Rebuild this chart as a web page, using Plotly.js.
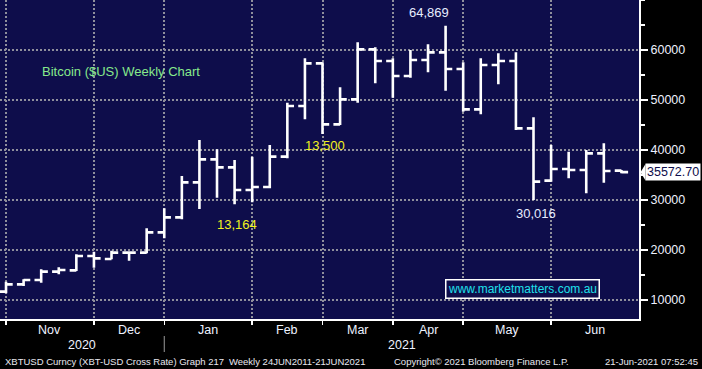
<!DOCTYPE html>
<html>
<head>
<meta charset="utf-8">
<script src="https://cdn.plot.ly/plotly-3.0.1.min.js"></script>
<style>
  html, body { margin: 0; padding: 0; background: #000000; }
  #chart { width: 702px; height: 369px; }
</style>
</head>
<body>
<div id="chart"></div>
<script>
// Weekly bars (week start dates)
const weeks = [
  '2020-10-19','2020-10-26','2020-11-02','2020-11-09','2020-11-16','2020-11-23',
  '2020-11-30','2020-12-07','2020-12-14','2020-12-21','2020-12-28','2021-01-04',
  '2021-01-11','2021-01-18','2021-01-25','2021-02-01','2021-02-08','2021-02-15',
  '2021-02-22','2021-03-01','2021-03-08','2021-03-15','2021-03-22','2021-03-29',
  '2021-04-05','2021-04-12','2021-04-19','2021-04-26','2021-05-03','2021-05-10',
  '2021-05-17','2021-05-24','2021-05-31','2021-06-07','2021-06-14','2021-06-21'
];
const openVals = [
  11670,13130,14000,15670,15930,18800,18200,19470,19470,23530,26530,33530,
  38130,36530,32000,32600,38670,48800,57330,45130,50130,60130,57800,54800,
  58000,59530,56200,48130,57000,57800,44330,33870,36200,36000,39330,35870
];
const highVals = [
  13670,14130,16130,16530,19130,19670,19870,19520,24330,28330,34800,42000,
  40130,38000,38670,41000,49470,58330,57530,52530,61530,60530,58330,60000,
  61130,64869,57530,58330,59330,59530,46530,41000,39670,40000,41330,36000
];
const lowVals = [
  11330,12800,13470,15130,15800,16470,18130,17870,19330,22330,26130,28200,
  30470,29130,29530,32330,38330,46130,43200,45000,49470,53330,50470,54470,
  55530,51870,47670,47130,53130,44000,30016,33670,34330,31330,33470,35330
];
const closeVals = [
  13130,14000,15670,16000,18800,18330,19470,19470,23530,26530,33530,38130,
  36530,32000,32600,38670,48800,57330,45130,50130,60130,57800,54800,58000,
  59530,56200,48130,57000,57800,44330,33670,36200,36000,39330,35800,35572.70
];

// Axis ticks / labels
const monthTicks = ['2020-10-19','2020-11-23','2020-12-21','2021-01-25','2021-02-22','2021-03-22','2021-04-19','2021-05-24'];
const monthNames = ['Nov','Dec','Jan','Feb','Mar','Apr','May','Jun'];
const yearNames = ['2020','2021'];
const yTickVals = [10000,20000,30000,40000,50000,60000];
const yTickText = ['10000','20000','30000','40000','50000','60000'];
const xRange = ['2020-10-16 14:30','2021-06-28'];
const yRange = [6200, 70000];

const title = 'Bitcoin ($US) Weekly Chart';
const yellowNotes = ['13,164','13,500'];
const website = 'www.marketmatters.com.au';
const footerLeft = 'XBTUSD Curncy (XBT-USD Cross Rate) Graph 217';
const footerMid = 'Weekly 24JUN2011-21JUN2021';
const footerCopy = 'Copyright\u00A9 2021 Bloomberg Finance L.P.';
const footerTime = '21-Jun-2021 07:52:45';

const NAVY = '#0e0d4b';
const GRID = '#8f8f9c';
const FONT = 'Liberation Sans, Arial, sans-serif';

function mid(a, b) {
  const t = (Date.parse(a) + Date.parse(b)) / 2;
  return new Date(t).toISOString().replace('T', ' ').replace('Z', '');
}
function fmt(v) { return v.toLocaleString('en-US'); }

const lastClose = closeVals[closeVals.length - 1];
const iMax = highVals.indexOf(Math.max(...highVals));
const iMin30 = 30;

const trace = {
  type: 'ohlc',
  x: weeks, open: openVals, high: highVals, low: lowVals, close: closeVals,
  increasing: { line: { color: '#ffffff', width: 2.6 } },
  decreasing: { line: { color: '#ffffff', width: 2.6 } },
  tickwidth: 0.38,
  hoverinfo: 'skip'
};

const annotations = [];
// month labels
for (let k = 0; k < monthNames.length; k++) {
  const a = monthTicks[k];
  const b = k + 1 < monthTicks.length ? monthTicks[k + 1] : xRange[1];
  annotations.push({ x: mid(a, b), xref: 'x', y: -0.035, yref: 'paper', text: monthNames[k],
    showarrow: false, xanchor: 'center', yanchor: 'middle', font: { family: FONT, size: 12.5, color: '#eef2ff' } });
}
// year labels
annotations.push({ x: mid(xRange[0], monthTicks[2]), xref: 'x', y: -0.083, yref: 'paper', text: yearNames[0],
  showarrow: false, xanchor: 'center', yanchor: 'middle', font: { family: FONT, size: 12.5, color: '#eef2ff' } });
annotations.push({ x: mid(monthTicks[2], xRange[1]), xref: 'x', y: -0.083, yref: 'paper', text: yearNames[1],
  showarrow: false, xanchor: 'center', yanchor: 'middle', font: { family: FONT, size: 12.5, color: '#eef2ff' } });
// chart title
annotations.push({ x: 0.0625, xref: 'paper', y: 0.776, yref: 'paper', text: title, showarrow: false,
  xanchor: 'left', yanchor: 'middle', font: { family: FONT, size: 13, color: '#86e98c' } });
// value notes
annotations.push({ x: 0.672, xref: 'paper', y: 1 - 12.7 / 319, yref: 'paper', text: fmt(highVals[iMax]), showarrow: false,
  xanchor: 'center', yanchor: 'middle', font: { family: FONT, size: 13, color: '#e6ecff' } });
annotations.push({ x: 535.5 / 639, xref: 'paper', y: 1 - 214 / 319, yref: 'paper', text: fmt(lowVals[iMin30]), showarrow: false,
  xanchor: 'center', yanchor: 'middle', font: { family: FONT, size: 13, color: '#e6ecff' } });
annotations.push({ x: 236.5 / 639, xref: 'paper', y: 1 - 224 / 319, yref: 'paper', text: yellowNotes[0], showarrow: false,
  xanchor: 'center', yanchor: 'middle', font: { family: FONT, size: 13, color: '#f2f21e' } });
annotations.push({ x: 324.5 / 639, xref: 'paper', y: 1 - 146 / 319, yref: 'paper', text: yellowNotes[1], showarrow: false,
  xanchor: 'center', yanchor: 'middle', font: { family: FONT, size: 13, color: '#f2f21e' } });
// website box
annotations.push({ x: 522 / 639, xref: 'paper', y: 1 - 289.3 / 319, yref: 'paper', text: website, showarrow: false,
  xanchor: 'center', yanchor: 'middle', bgcolor: NAVY, bordercolor: '#ffffff', borderwidth: 1.5, borderpad: 1.5,
  font: { family: FONT, size: 12, color: '#1fe0ea' } });
// last price label
annotations.push({ x: 645 / 639, xref: 'paper', y: lastClose, yref: 'y', text: lastClose.toFixed(2), showarrow: false,
  xanchor: 'left', yanchor: 'middle', bgcolor: '#ffffff', borderpad: 1,
  font: { family: FONT, size: 12.5, color: NAVY } });
// footer
annotations.push({ x: 2.7 / 639, xref: 'paper', y: -0.134, yref: 'paper', text: footerLeft, showarrow: false,
  xanchor: 'left', yanchor: 'middle', font: { family: FONT, size: 9.5, color: '#e8e8f0' } });
annotations.push({ x: 226.5 / 639, xref: 'paper', y: -0.134, yref: 'paper', text: footerMid, showarrow: false,
  xanchor: 'left', yanchor: 'middle', font: { family: FONT, size: 9.5, color: '#e8e8f0' } });
annotations.push({ x: 392 / 639, xref: 'paper', y: -0.134, yref: 'paper', text: footerCopy, showarrow: false,
  xanchor: 'left', yanchor: 'middle', font: { family: FONT, size: 9.5, color: '#e8e8f0' } });
annotations.push({ x: 700 / 639, xref: 'paper', y: -0.134, yref: 'paper', text: footerTime, showarrow: false,
  xanchor: 'right', yanchor: 'middle', font: { family: FONT, size: 9.5, color: '#e8e8f0' } });

const shapes = [
  // pointer of last price label
  { type: 'path', xref: 'paper', yref: 'y',
    path: `M ${640.5/639},${lastClose} L ${645.5/639},${lastClose + 1650} L ${645.5/639},${lastClose - 1650} Z`,
    fillcolor: '#ffffff', line: { width: 0 } },
  // year separator
  { type: 'line', xref: 'x', yref: 'paper', x0: monthTicks[2], x1: monthTicks[2],
    y0: -17 / 319, y1: -33 / 319, line: { color: '#9a9a9a', width: 1 } }
];

const layout = {
  width: 702, height: 369,
  margin: { l: 0, r: 63, t: 0, b: 50, pad: 0 },
  paper_bgcolor: '#000000',
  plot_bgcolor: NAVY,
  showlegend: false,
  font: { family: FONT, color: '#eef2ff' },
  xaxis: {
    type: 'date', range: xRange, rangeslider: { visible: false },
    tickmode: 'array', tickvals: monthTicks, showticklabels: false,
    ticks: 'outside', ticklen: 4, tickwidth: 1.5, tickcolor: '#ffffff',
    showgrid: true, gridcolor: GRID, gridwidth: 2, griddash: '2px,2px',
    showline: true, linecolor: '#ffffff', linewidth: 2, zeroline: false, fixedrange: true
  },
  yaxis: {
    side: 'right', range: yRange,
    tickmode: 'array', tickvals: yTickVals, ticktext: yTickText,
    ticks: 'outside', ticklen: 7, tickwidth: 2.5, tickcolor: '#ffffff',
    tickfont: { family: FONT, size: 12.5, color: '#eef2ff' },
    minor: { tickmode: 'linear', tick0: 0, dtick: 5000, ticks: 'outside', ticklen: 3.5, tickwidth: 1.5, tickcolor: '#ffffff', showgrid: false },
    showgrid: true, gridcolor: GRID, gridwidth: 2, griddash: '2px,2px',
    showline: true, linecolor: '#ffffff', linewidth: 2, zeroline: false, fixedrange: true
  },
  annotations: annotations,
  shapes: shapes
};

Plotly.newPlot('chart', [trace], layout, { displayModeBar: false, staticPlot: true });
</script>
</body>
</html>
